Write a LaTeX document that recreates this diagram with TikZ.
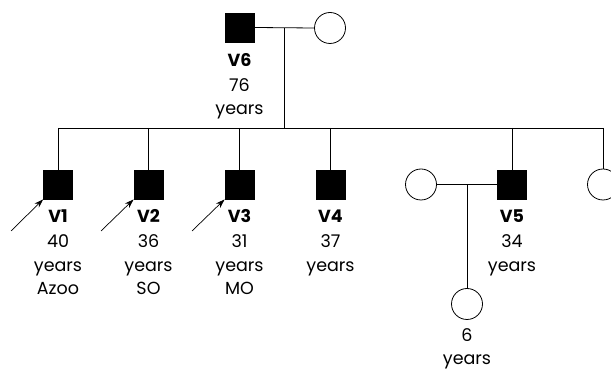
\documentclass[tikz,border=0pt]{standalone}
\usepackage{fontspec}
\setmainfont{Poppins}
\usetikzlibrary{arrows.meta}
\tikzset{
  male/.style={draw=black,fill=black,minimum size=29pt,inner sep=0pt,line width=0.8pt},
  female/.style={circle,draw=black,fill=white,minimum size=31pt,inner sep=0pt,line width=0.8pt},
  lbl/.style={anchor=base,inner sep=0pt,font=\fontsize{17.5}{20}\selectfont},
  rel/.style={line width=0.8pt},
  proband/.style={-{Stealth[length=9pt,width=6pt]},line width=0.7pt}
}
\begin{document}
\begin{tikzpicture}[x=1pt,y=-1pt]
\useasboundingbox (0,0) rectangle (611,371);
\begin{scope}
\clip (0,0) rectangle (611,371);
% generation I
\node[male] (v6) at (239.5,27.5) {};
\node[female] (w6) at (330,28) {};
\coordinate (m6) at (284,28);
\draw[rel] (v6.east) -- (w6.west);
\coordinate (sib) at (284,128);
\draw[rel] (m6) -- (sib);
% generation II
\node[male] (v1) at (58,184.5) {};
\node[male] (v2) at (148.5,184.5) {};
\node[male] (v3) at (239.5,184.5) {};
\node[male] (v4) at (330.5,184.5) {};
\node[male] (v5) at (512,184.5) {};
\node[female] (s7) at (603,184.5) {};
\node[female] (w5) at (421,184.5) {};
\coordinate (sl) at (58,128);
\coordinate (sr) at (603,128);
\draw[rel] (sl) -- (sr);
\foreach \n in {v1,v2,v3,v4,v5,s7}{
  \draw[rel] (\n.north |- sl) -- (\n.north);
}
% V5 couple
\draw[rel] (w5.east) -- (v5.west);
\coordinate (m5) at (467,184.5);
\node[female] (c5) at (467,304) {};
\draw[rel] (m5) -- (c5.north);
% probands
\coordinate (p1) at (11,231);
\coordinate (p2) at (101,231);
\coordinate (p3) at (192,231);
\draw[proband] (p1) -- (v1.south west);
\draw[proband] (p2) -- (v2.south west);
\draw[proband] (p3) -- (v3.south west);
\end{scope}
% labels
\node[lbl] (t6a) at (239.5,67) {\textbf{V6}};
\node[lbl] (t6b) at (239.5,92) {76};
\node[lbl] (t6c) at (239.5,115) {years};
\node[lbl] (t1a) at (58,223) {\textbf{V1}};
\node[lbl] (t1b) at (58,248) {40};
\node[lbl] (t1c) at (58,272) {years};
\node[lbl] (t1d) at (58,295) {Azoo};
\node[lbl] (t2a) at (148.5,223) {\textbf{V2}};
\node[lbl] (t2b) at (148.5,248) {36};
\node[lbl] (t2c) at (148.5,272) {years};
\node[lbl] (t2d) at (148.5,295) {SO};
\node[lbl] (t3a) at (239.5,223) {\textbf{V3}};
\node[lbl] (t3b) at (239.5,248) {31};
\node[lbl] (t3c) at (239.5,272) {years};
\node[lbl] (t3d) at (239.5,295) {MO};
\node[lbl] (t4a) at (330.5,223) {\textbf{V4}};
\node[lbl] (t4b) at (330.5,248) {37};
\node[lbl] (t4c) at (330.5,272) {years};
\node[lbl] (t5a) at (512,223) {\textbf{V5}};
\node[lbl] (t5b) at (512,248) {34};
\node[lbl] (t5c) at (512,272) {years};
\node[lbl] (tca) at (467,342) {6};
\node[lbl] (tcb) at (467,365) {years};
\end{tikzpicture}
\end{document}
